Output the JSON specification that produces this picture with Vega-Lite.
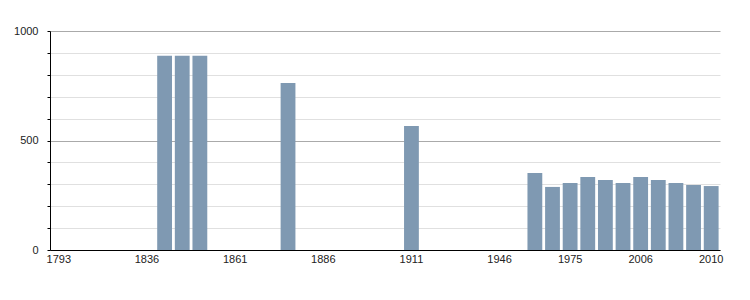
{
  "$schema": "https://vega.github.io/schema/vega-lite/v6.json",
  "width": 670,
  "height": 219,
  "autosize": "none",
  "padding": {"left": 50, "top": 31, "right": 30, "bottom": 50},
  "background": "white",
  "config": {"view": {"stroke": null}, "font": "Liberation Sans", "axis": {"labelFont": "Liberation Sans"}},
  "data": {"values": [
    {"year": "1841", "population": 887},
    {"year": "1846", "population": 887},
    {"year": "1851", "population": 887},
    {"year": "1876", "population": 762},
    {"year": "1911", "population": 566},
    {"year": "1962", "population": 352},
    {"year": "1968", "population": 288},
    {"year": "1975", "population": 306},
    {"year": "1982", "population": 333},
    {"year": "1990", "population": 320},
    {"year": "1999", "population": 306},
    {"year": "2006", "population": 333},
    {"year": "2007", "population": 320},
    {"year": "2008", "population": 306},
    {"year": "2009", "population": 297},
    {"year": "2010", "population": 292}
  ]},
  "mark": {"type": "bar", "color": "#7f99b2"},
  "encoding": {
    "x": {
      "field": "year", "type": "ordinal",
      "scale": {
        "domain": ["1793","1800","1806","1821","1831","1836","1841","1846","1851","1856","1861","1866","1872","1876","1881","1886","1891","1896","1901","1906","1911","1921","1926","1931","1936","1946","1954","1962","1968","1975","1982","1990","1999","2006","2007","2008","2009","2010"],
        "paddingInner": 0.16, "paddingOuter": 0.08
      },
      "axis": {
        "title": null, "labelAngle": 0, "ticks": false, "grid": false,
        "domainColor": "#000", "domainWidth": 1,
        "labelFont": "Liberation Sans",
        "labelFontSize": 11, "labelColor": "#222", "labelPadding": 3,
        "labelExpr": "indexof(['1793','1836','1861','1886','1911','1946','1975','2006','2010'], datum.label) >= 0 ? datum.label : ''"
      }
    },
    "y": {
      "field": "population", "type": "quantitative",
      "scale": {"domain": [0, 1000], "nice": false},
      "axis": {
        "title": null,
        "values": [0,100,200,300,400,500,600,700,800,900,1000],
        "format": "d",
        "grid": true,
        "gridColor": {"condition": {"test": "datum.value % 500 === 0", "value": "#aaaaaa"}, "value": "#e0e0e0"},
        "gridWidth": 1,
        "domainColor": "#000", "tickColor": "#000", "tickSize": 3,
        "labelFont": "Liberation Sans",
        "labelFontSize": 11, "labelColor": "#222", "labelPadding": 9,
        "labelExpr": "datum.value % 500 === 0 ? datum.label : ''"
      }
    }
  }
}
